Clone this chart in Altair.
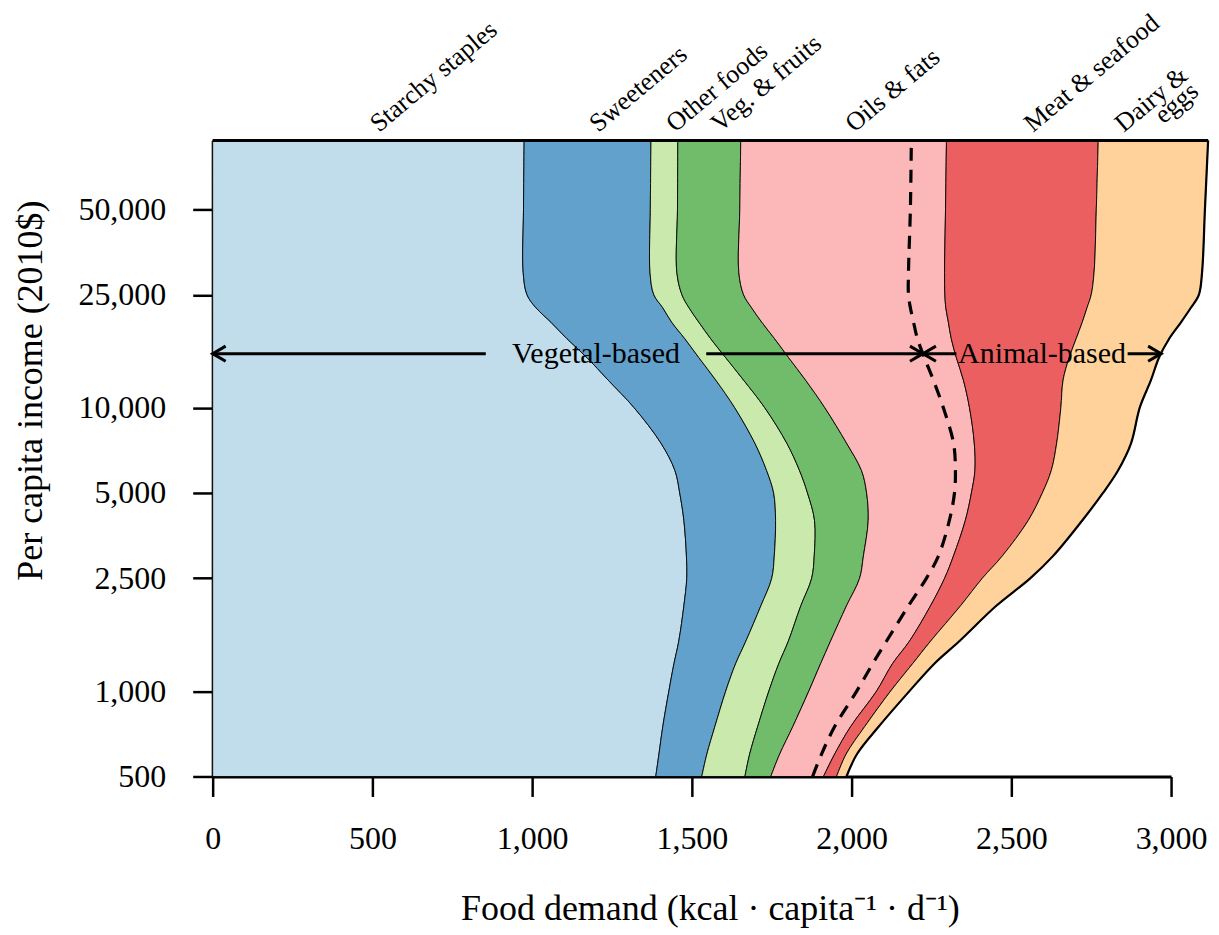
import altair as alt
import pandas as pd
import numpy as np

# ---------------- data ----------------
income = [500, 600, 750, 1000, 1250, 1500, 2000, 2500, 3000, 4000, 5000, 6000,
          7500, 10000, 12500, 15000, 17500, 20000, 22500, 25000, 30000, 50000, 87500]

categories = ["Starchy staples", "Sweeteners", "Other foods", "Veg. & fruits",
              "Oils & fats", "Meat & seafood", "Dairy & eggs"]
colors = ["#c1ddeb", "#62a1cb", "#c9e9ad", "#70bc6b", "#fcb8b8", "#eb5f60", "#fed29a"]

starchy = [1387, 1397, 1409, 1428, 1444, 1459, 1475, 1484, 1483, 1475, 1462, 1447,
           1403, 1319, 1238, 1172, 1109, 1059, 1012, 984, 972, 973, 975]
sweeteners = [144, 150, 163, 178, 193, 210, 241, 266, 275, 287, 294, 287,
              294, 315, 337, 350, 369, 378, 397, 397, 397, 397, 397]
other_foods = [135, 134, 134, 135, 135, 133, 125, 125, 125, 122, 106, 103,
               100, 94, 87, 84, 81, 85, 82, 88, 84, 85, 84]
veg_fruits = [81, 94, 110, 125, 131, 132, 143, 150, 154, 168, 185, 194,
              187, 188, 194, 197, 200, 197, 196, 193, 194, 195, 197]
oils_fats = [165, 172, 181, 212, 225, 247, 263, 266, 282, 304, 328, 355,
             400, 453, 494, 525, 553, 584, 608, 630, 644, 644, 644]
meat_seafood = [41, 36, 44, 44, 63, 66, 94, 118, 153, 197, 222, 239,
                258, 286, 312, 353, 391, 419, 442, 458, 468, 472, 475]
dairy_eggs = [31, 34, 44, 59, 68, 90, 112, 150, 159, 169, 190, 209,
              233, 247, 275, 281, 291, 309, 325, 337, 338, 340, 344]
# cumulative vegetal-based demand (dashed line)
vegetal_total = [1878, 1906, 1947, 2016, 2066, 2109, 2178, 2234, 2272, 2306, 2322, 2325,
                 2319, 2287, 2256, 2228, 2206, 2194, 2184, 2178, 2178, 2184, 2187]

series = [starchy, sweeteners, other_foods, veg_fruits, oils_fats, meat_seafood, dairy_eggs]

x_ticks = [0, 500, 1000, 1500, 2000, 2500, 3000]
y_ticks = [500, 1000, 2500, 5000, 10000, 25000, 50000]

arrow_income = 15500
vegetal_label_x = 1200
vegetal_gap = 345
animal_gap = 268
dairy_label_shift = -125

FONT = "Liberation Serif"
CURVE = "catmull-rom"

# ---------------- tables ----------------
cat_frames = []
cum = np.zeros(len(income))
tops = []
for cat, vals in zip(categories, series):
    lo = cum.copy()
    cum = cum + np.array(vals, dtype=float)
    tops.append((lo[-1] + cum[-1]) / 2)
    cat_frames.append(pd.DataFrame({"income": income, "x0": lo, "x1": cum.copy()}))
total = cum

df_total = pd.DataFrame({"income": income, "total": total})
df_veg = pd.DataFrame({"income": income, "veg": vegetal_total})
df_top = pd.DataFrame({"income": [income[-1]], "x0": [0.0], "x1": [total[-1]]})

li = np.log(income)
veg_at = float(np.interp(np.log(arrow_income), li, vegetal_total))
tot_at = float(np.interp(np.log(arrow_income), li, total))
animal_mid = (veg_at + tot_at) / 2

df_seg = pd.DataFrame({
    "a": [0, vegetal_label_x + vegetal_gap, veg_at, animal_mid + animal_gap],
    "b": [vegetal_label_x - vegetal_gap, veg_at, animal_mid - animal_gap, tot_at],
    "income": [arrow_income] * 4,
})
df_left = pd.DataFrame({"x": [0, veg_at], "income": [arrow_income] * 2})
df_right = pd.DataFrame({"x": [veg_at, tot_at], "income": [arrow_income] * 2})
df_ann = pd.DataFrame({"x": [vegetal_label_x, animal_mid],
                       "income": [arrow_income] * 2,
                       "text": ["Vegetal-based", "Animal-based"]})

lab_x = list(tops)
lab_x[-1] = tops[-1] + dairy_label_shift
lab_text = ["Starchy staples", "Sweeteners", "Other foods", "Veg. & fruits",
            "Oils & fats", "Meat & seafood", "Dairy &"]
df_lab = pd.DataFrame({"x": lab_x, "income": [income[-1]] * 7, "text": lab_text})
df_eggs = pd.DataFrame({"x": [lab_x[-1]], "income": [income[-1]], "text": ["eggs"]})

# ---------------- scales / axes ----------------
xs = alt.Scale(domain=[0, 3000], nice=False, zero=True)
ys = alt.Scale(type="log", domain=[500, 87500], nice=False)

x_axis = alt.Axis(values=x_ticks, format=",.0f", grid=False, labelFlush=False,
                  title="Food demand (kcal · capita⁻¹ · d⁻¹)",
                  titleX=498, titleY=132, titleBaseline="middle", titleAnchor="middle")
y_axis = alt.Axis(values=y_ticks, format=",.0f", grid=False, labelFlush=False,
                  title="Per capita income (2010$)",
                  titleX=-182, titleY=250, titleBaseline="middle", titleAnchor="middle")


def X(f, **k):
    return alt.X(f, scale=xs, **k)


def Y(f, **k):
    return alt.Y(f, scale=ys, **k)


layers = []
for i, (cat, frame, col) in enumerate(zip(categories, cat_frames, colors)):
    if i == 0:
        enc = dict(x=X("x0:Q", stack=False, axis=x_axis), x2="x1:Q",
                   y=Y("income:Q", axis=y_axis))
    else:
        enc = dict(x=X("x0:Q", stack=False), x2="x1:Q", y=Y("income:Q"))
    layers.append(
        alt.Chart(frame).mark_area(
            orient="horizontal", interpolate=CURVE, fill=col,
            stroke="black", strokeWidth=0.9, fillOpacity=1
        ).encode(**enc)
    )

outline = alt.Chart(df_total).mark_area(
    orient="horizontal", interpolate=CURVE, stroke="black", strokeWidth=2.2,
    fillOpacity=0
).encode(
    x=X("total:Q", stack=False), x2="total:Q", y=Y("income:Q"),
)

dashed = alt.Chart(df_veg).mark_line(
    interpolate=CURVE, color="black", strokeWidth=3.2, strokeDash=[13, 9]
).encode(x=X("veg:Q"), y=Y("income:Q"), order=alt.Order("income:Q"))

top_rule = alt.Chart(df_top).mark_rule(color="black", strokeWidth=3).encode(
    x=X("x0:Q"), x2="x1:Q", y=Y("income:Q"))

segs = alt.Chart(df_seg).mark_rule(color="black", strokeWidth=3).encode(
    x=X("a:Q"), x2="b:Q", y=Y("income:Q"))

left_heads = alt.Chart(df_left).mark_point(
    shape="M1,-0.58L0,0L1,0.58", size=676, filled=False, color="black",
    strokeWidth=3, opacity=1
).encode(x=X("x:Q"), y=Y("income:Q"))

right_heads = alt.Chart(df_right).mark_point(
    shape="M-1,-0.58L0,0L-1,0.58", size=676, filled=False, color="black",
    strokeWidth=3, opacity=1
).encode(x=X("x:Q"), y=Y("income:Q"))

ann = alt.Chart(df_ann).mark_text(
    font=FONT, fontSize=30, color="black", align="center", baseline="middle"
).encode(x=X("x:Q"), y=Y("income:Q"), text="text:N")

labels = alt.Chart(df_lab).mark_text(
    font=FONT, fontSize=26, color="black", align="left", baseline="alphabetic",
    angle=320, dx=13, dy=1
).encode(x=X("x:Q"), y=Y("income:Q"), text="text:N")

eggs = alt.Chart(df_eggs).mark_text(
    font=FONT, fontSize=26, color="black", align="left", baseline="alphabetic",
    angle=320, dx=49, dy=20
).encode(x=X("x:Q"), y=Y("income:Q"), text="text:N")

chart = alt.layer(
    *layers, outline, dashed, top_rule, segs, left_heads, right_heads, ann, labels, eggs
).properties(
    width=960, height=637,
    padding={"left": 205, "top": 132, "right": 40, "bottom": 152},
    autosize="none",
).configure_view(strokeWidth=0).configure_axis(
    labelFont=FONT, titleFont=FONT, labelFontSize=32, titleFontSize=36,
    labelColor="black", titleColor="black", titleFontWeight="normal",
    domainColor="black", tickColor="black", domainWidth=3, tickWidth=2.5,
    tickSize=20, labelPadding=27
)

chart.save("out.html", embed_options={"renderer": "svg", "actions": False})
